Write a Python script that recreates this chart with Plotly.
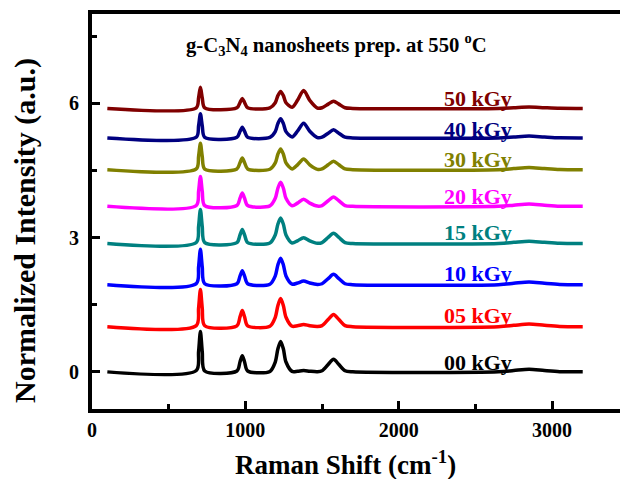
import plotly.graph_objects as go

# Raman shift sampling positions (cm^-1)
raman_shift = [100, 680, 695, 707, 719, 735, 945, 965, 980, 995, 1015, 1160, 1195, 1212,
               1230, 1248, 1265, 1305, 1340, 1380, 1420, 1470, 1500, 1540, 1575, 1610,
               1650, 1700, 2650, 2750, 2850, 2950, 3050, 3200]

labels = ["00 kGy", "05 kGy", "10 kGy", "15 kGy", "20 kGy", "30 kGy", "40 kGy", "50 kGy"]
colors = ["#000000", "#FF0000", "#0000FF", "#008080", "#FF00FF", "#808000", "#000080", "#800000"]
offsets = [0.0, 1.01, 1.95, 2.87, 3.70, 4.52, 5.23, 5.89]

int_00 = [0, 0.03, 0.45, 0.90, 0.45, 0.02, 0.02, 0.22, 0.36, 0.22, 0.02, 0.01, 0.22, 0.51, 0.68, 0.51,
          0.22, 0.01, 0.015, 0.03, 0.015, 0.005, 0.025, 0.165, 0.28, 0.165, 0.025, 0, 0, 0.03, 0.06,
          0.03, 0.005, 0]
int_05 = [0, 0.025, 0.415, 0.83, 0.415, 0.02, 0.02, 0.22, 0.36, 0.22, 0.02, 0.01, 0.21, 0.47, 0.63,
          0.47, 0.21, 0.01, 0.022, 0.05, 0.022, 0.005, 0.024, 0.16, 0.27, 0.16, 0.024, 0, 0, 0.03,
          0.06, 0.03, 0.005, 0]
int_10 = [0, 0.024, 0.395, 0.79, 0.395, 0.02, 0.02, 0.19, 0.31, 0.19, 0.02, 0.01, 0.195, 0.44, 0.59,
          0.44, 0.195, 0.01, 0.036, 0.08, 0.036, 0.005, 0.02, 0.135, 0.23, 0.135, 0.02, 0, 0, 0.03,
          0.06, 0.03, 0.005, 0]
int_15 = [0, 0.023, 0.38, 0.76, 0.38, 0.02, 0.02, 0.19, 0.31, 0.19, 0.02, 0.01, 0.19, 0.43, 0.57,
          0.43, 0.19, 0.012, 0.06, 0.13, 0.06, 0.005, 0.02, 0.135, 0.23, 0.135, 0.02, 0, 0, 0.025,
          0.05, 0.025, 0.004, 0]
int_20 = [0, 0.02, 0.335, 0.67, 0.335, 0.015, 0.02, 0.18, 0.30, 0.18, 0.02, 0.01, 0.18, 0.405, 0.54,
          0.405, 0.18, 0.013, 0.072, 0.16, 0.072, 0.006, 0.019, 0.125, 0.21, 0.125, 0.019, 0, 0,
          0.025, 0.05, 0.025, 0.004, 0]
int_30 = [0, 0.018, 0.295, 0.59, 0.295, 0.012, 0.016, 0.155, 0.26, 0.155, 0.016, 0.01, 0.15, 0.345,
          0.46, 0.345, 0.15, 0.017, 0.108, 0.24, 0.108, 0.006, 0.017, 0.11, 0.19, 0.11, 0.017, 0, 0,
          0.025, 0.05, 0.025, 0.004, 0]
int_40 = [0, 0.016, 0.27, 0.54, 0.27, 0.011, 0.014, 0.145, 0.24, 0.145, 0.014, 0.01, 0.14, 0.32,
          0.43, 0.32, 0.14, 0.022, 0.15, 0.33, 0.15, 0.007, 0.016, 0.105, 0.18, 0.105, 0.016, 0, 0,
          0.02, 0.04, 0.02, 0.003, 0]
int_50 = [0, 0.014, 0.235, 0.47, 0.235, 0.01, 0.013, 0.13, 0.22, 0.13, 0.013, 0.01, 0.125, 0.285,
          0.38, 0.285, 0.125, 0.026, 0.18, 0.40, 0.18, 0.008, 0.014, 0.095, 0.16, 0.095, 0.014, 0, 0,
          0.015, 0.03, 0.015, 0.002, 0]

intensities = [int_00, int_05, int_10, int_15, int_20, int_30, int_40, int_50]

label_x = 2520
label_y = [0.22, 1.27, 2.21, 3.11, 3.93, 4.74, 5.41, 6.12]

x_ticks = [0, 1000, 2000, 3000]
x_minor = [500, 1500, 2500]
y_ticks = [0, 3, 6]
y_minor = [1.5, 4.5, 7.5]

FONT = "Liberation Serif"

fig = go.Figure()
for lab, col, off, vals in zip(labels, colors, offsets, intensities):
    fig.add_trace(go.Scatter(
        x=raman_shift, y=[v + off for v in vals], mode="lines", name=lab,
        line=dict(color=col, width=3.5, shape="spline", smoothing=0.8),
        showlegend=False, hoverinfo="skip"))

annotations = []
for lab, col, ly in zip(labels, colors, label_y):
    annotations.append(dict(x=label_x, y=ly, xref="x", yref="y", text=lab, showarrow=False,
                            xanchor="center", yanchor="middle",
                            font=dict(family=FONT, size=22, color=col, weight="bold")))

annotations.append(dict(x=600, y=7.31, xref="x", yref="y", xanchor="left", yanchor="middle",
                        text="g-C<sub>3</sub>N<sub>4</sub> nanosheets prep. at 550 <sup>o</sup>C",
                        showarrow=False, font=dict(family=FONT, size=20.7, color="black", weight="bold")))
annotations.append(dict(x=-0.127, y=0.453, xref="paper", yref="paper", textangle=-90,
                        xanchor="center", yanchor="middle",
                        text="Normalized Intensity (a.u.)", showarrow=False,
                        font=dict(family=FONT, size=30, color="black", weight="bold")))
annotations.append(dict(x=0.481, y=-0.137, xref="paper", yref="paper",
                        xanchor="center", yanchor="middle",
                        text="Raman Shift (cm<sup>-1</sup>)", showarrow=False,
                        font=dict(family=FONT, size=27, color="black", weight="bold")))

fig.update_layout(
    width=620, height=479,
    margin=dict(l=92, r=0, t=14, b=70, autoexpand=False),
    paper_bgcolor="white", plot_bgcolor="white",
    annotations=annotations,
    xaxis=dict(range=[0, 3443], tickvals=x_ticks, ticks="inside", ticklen=8, tickwidth=3,
               tickcolor="black", showline=True, linewidth=4, linecolor="black", mirror=True,
               showgrid=False, zeroline=False, automargin=False,
               minor=dict(tickvals=x_minor, ticks="inside", ticklen=5, tickwidth=3, tickcolor="black"),
               tickfont=dict(family=FONT, size=20, color="black", weight="bold")),
    yaxis=dict(range=[-0.83, 8.0], tickvals=y_ticks, ticks="inside", ticklen=8, tickwidth=3,
               tickcolor="black", showline=True, linewidth=4, linecolor="black", mirror=False,
               showgrid=False, zeroline=False, automargin=False, ticklabelstandoff=5,
               minor=dict(tickvals=y_minor, ticks="inside", ticklen=5, tickwidth=3, tickcolor="black"),
               tickfont=dict(family=FONT, size=20, color="black", weight="bold")),
)

# remove the page's default 8px body margin so the figure sits at the window's corner
fig.write_html("out.html", config={"displayModeBar": False},
               post_script="document.body.style.margin='0';document.body.style.overflow='hidden';")
